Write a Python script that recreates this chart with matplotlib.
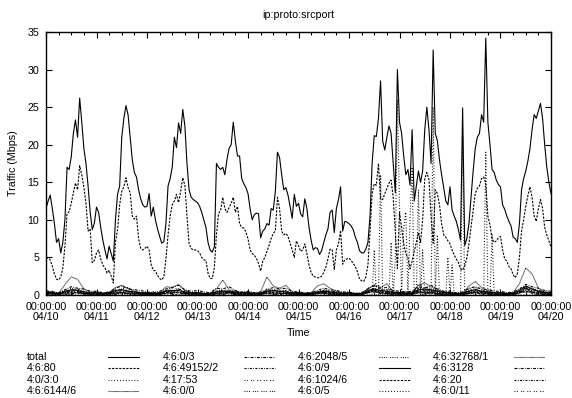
import numpy as np
import matplotlib
matplotlib.use("Agg")
from matplotlib import pyplot as plt
from matplotlib.lines import Line2D

plt.rcParams['font.family'] = ['Liberation Sans', 'DejaVu Sans']
FS = 7.7

# hourly samples, 04/10 00:00 .. 04/20 00:00
total = [11.5, 12.5, 13.3, 11.5, 9.5, 7.0, 7.5, 5.6, 7.0, 10.0, 17.0, 16.7, 18.4, 21.5, 23.3, 21.0, 26.2, 23.0, 19.5, 17.5, 14.5, 11.0, 8.7, 9.6,
         11.7, 11.0, 9.0, 7.3, 6.0, 4.8, 6.5, 5.5, 4.5, 10.0, 13.4, 14.5, 21.0, 23.5, 25.2, 24.0, 21.0, 18.0, 16.3, 15.7, 14.0, 12.8, 12.0, 11.7,
         11.8, 13.5, 10.5, 11.7, 10.0, 8.8, 7.8, 6.9, 7.1, 9.5, 14.5, 15.5, 17.0, 21.0, 19.6, 22.9, 21.5, 24.7, 22.5, 17.5, 14.0, 13.0, 12.7, 12.5,
         12.3, 11.8, 11.0, 10.0, 9.0, 7.0, 6.0, 5.7, 6.4, 17.5, 17.0, 16.7, 17.0, 16.0, 18.0, 19.5, 20.0, 23.0, 20.5, 18.5, 18.5, 15.5, 14.8, 14.3,
         13.5, 11.5, 10.0, 10.7, 10.9, 10.8, 7.6, 8.5, 8.8, 9.5, 9.3, 11.5, 11.3, 13.8, 19.0, 18.3, 16.0, 14.0, 14.3, 13.3, 11.8, 10.2, 13.4, 11.8,
         12.2, 10.8, 10.4, 12.8, 11.5, 9.0, 7.3, 6.0, 6.3, 6.2, 5.4, 5.9, 7.0, 8.0, 8.8, 11.0, 11.3, 8.3, 11.5, 12.7, 14.4, 8.5, 9.8, 9.7,
         9.5, 9.2, 8.7, 7.7, 7.0, 5.9, 5.6, 5.6, 6.1, 7.0, 10.5, 17.6, 21.2, 21.1, 23.5, 28.5, 20.5, 19.3, 21.0, 22.5, 21.5, 17.5, 13.6, 30.0,
         23.0, 21.5, 18.5, 16.0, 16.7, 14.6, 22.0, 12.5, 14.5, 16.5, 15.0, 16.5, 22.0, 25.0, 22.0, 17.5, 32.6, 21.5, 20.5, 18.0, 16.0, 14.3, 12.5, 12.0,
         14.4, 11.3, 10.5, 9.8, 8.7, 7.3, 24.9, 6.6, 7.5, 9.5, 13.0, 16.5, 19.5, 21.0, 21.5, 24.0, 23.0, 34.2, 23.0, 20.0, 16.7, 16.3, 15.3, 14.7,
         14.4, 12.0, 11.4, 10.5, 9.8, 9.2, 7.7, 7.5, 7.0, 9.5, 14.0, 15.5, 16.5, 17.8, 19.5, 22.0, 24.0, 23.5, 24.5, 25.5, 23.5, 20.0, 17.0, 15.0, 13.5]

port80 = [5.0, 4.9, 4.7, 3.8, 2.8, 2.1, 2.0, 2.4, 3.6, 6.5, 10.8, 11.1, 12.2, 13.6, 14.9, 14.0, 17.2, 16.0, 14.3, 12.2, 8.5, 8.8, 4.3, 4.6,
          5.6, 6.0, 4.8, 4.0, 3.6, 2.9, 3.3, 2.5, 1.6, 7.0, 8.7, 12.0, 13.8, 14.4, 15.6, 14.3, 13.6, 10.5, 10.1, 10.5, 7.5, 6.2, 6.0, 6.2,
          6.5, 6.0, 4.0, 3.3, 3.2, 2.6, 2.2, 2.0, 2.4, 4.8, 8.0, 10.5, 12.0, 12.5, 13.4, 12.3, 13.8, 15.6, 14.6, 10.5, 6.8, 6.2, 6.0, 6.0,
          5.9, 5.6, 5.0, 4.7, 4.6, 2.9, 2.2, 2.2, 3.6, 8.0, 10.8, 11.3, 13.0, 11.5, 11.0, 11.6, 12.2, 13.0, 11.0, 11.8, 9.5, 9.0, 8.9, 8.4,
          7.5, 6.0, 5.5, 5.3, 4.9, 4.2, 3.2, 4.5, 5.0, 5.8, 6.6, 7.5, 8.2, 8.5, 13.0, 11.5, 8.5, 8.0, 8.2, 7.8, 6.9, 6.0, 5.0, 7.2,
          6.6, 5.8, 6.0, 6.8, 5.5, 4.0, 3.0, 2.5, 2.4, 2.3, 2.3, 2.5, 3.0, 3.7, 4.8, 6.1, 6.0, 3.4, 6.0, 6.8, 8.6, 4.1, 4.7, 4.8,
          4.9, 4.6, 4.2, 3.8, 3.1, 2.1, 1.9, 1.8, 2.4, 4.0, 8.5, 13.5, 14.8, 14.6, 17.5, 12.8, 12.7, 13.5, 14.2, 14.9, 15.3, 13.0, 8.5, 3.5,
          11.0, 9.0, 6.8, 5.5, 5.0, 3.5, 4.5, 5.8, 7.0, 8.3, 7.0, 10.0, 15.5, 16.3, 15.4, 10.5, 6.9, 14.0, 13.5, 12.0, 9.5, 8.0, 7.7, 7.2,
          6.8, 6.0, 5.3, 4.8, 4.3, 3.5, 3.3, 3.9, 4.9, 6.8, 9.0, 11.2, 13.5, 14.2, 14.5, 15.5, 15.7, 14.9, 10.5, 9.3, 7.5, 7.0, 7.2, 7.6,
          7.8, 6.0, 4.8, 4.5, 3.8, 3.5, 2.7, 2.3, 2.8, 5.0, 8.5, 10.0, 11.8, 13.2, 14.4, 13.0, 10.5, 9.8, 11.5, 12.7, 11.5, 9.0, 8.0, 7.2, 6.4]

# 4:0/3:0 is zero except for short bursts (hour index, Mbps)
p30_hours = [156, 159, 164, 166, 167, 168, 170, 171, 173, 174, 177, 179, 184, 186, 191, 193, 198, 209, 212]
p30_vals = [6.0, 16.0, 7.0, 5.0, 26.0, 12.0, 9.0, 11.0, 10.0, 17.0, 14.0, 6.0, 25.0, 8.0, 5.0, 4.0, 21.0, 19.0, 8.0]

# smaller flows, 3-hourly samples
s6144 = [0.3, 0.2, 0.2, 1.4, 2.4, 2.1, 0.8, 0.4, 0.3, 0.2, 0.3, 1.0, 1.3, 0.9, 0.5, 0.3,
         0.2, 0.2, 0.3, 1.1, 1.0, 1.4, 0.6, 0.3, 0.3, 0.2, 0.2, 0.8, 2.0, 0.7, 0.5, 0.3,
         0.2, 0.2, 0.4, 2.4, 1.2, 0.9, 1.3, 0.4, 0.3, 0.2, 0.3, 1.2, 1.5, 0.9, 0.5, 0.3,
         0.2, 0.1, 0.2, 0.8, 1.4, 1.0, 1.5, 0.4, 0.3, 0.2, 0.3, 1.3, 1.6, 1.1, 0.7, 0.4,
         0.3, 0.2, 0.2, 1.2, 1.8, 1.0, 0.6, 0.3, 0.3, 0.2, 0.3, 1.5, 3.6, 2.8, 0.9, 0.4, 0.3]
s0_3 = [0.6, 0.4, 0.3, 0.7, 1.1, 0.9, 0.8, 0.5, 0.5, 0.3, 0.4, 0.9, 1.2, 0.8, 0.7, 0.6,
        0.4, 0.3, 0.5, 0.8, 1.0, 1.3, 0.7, 0.5, 0.6, 0.4, 0.3, 0.9, 0.8, 1.1, 0.6, 0.4,
        0.5, 0.3, 0.4, 0.7, 1.0, 0.8, 0.9, 0.5, 0.4, 0.3, 0.3, 0.6, 0.9, 0.7, 0.6, 0.4,
        0.4, 0.2, 0.3, 0.8, 1.2, 0.9, 1.0, 0.6, 0.5, 0.4, 0.5, 1.1, 0.9, 1.3, 0.8, 0.5,
        0.4, 0.3, 0.4, 0.9, 1.1, 0.8, 0.7, 0.5, 0.5, 0.3, 0.4, 0.8, 1.4, 1.1, 0.9, 0.6, 0.5]
s49152 = [0.3, 0.5, 0.2, 0.4, 0.6, 0.8, 0.5, 0.3, 0.4, 0.2, 0.3, 0.5, 0.7, 0.6, 0.4, 0.3,
          0.2, 0.4, 0.3, 0.6, 0.5, 0.8, 0.4, 0.3, 0.3, 0.2, 0.2, 0.5, 0.6, 0.4, 0.5, 0.3,
          0.4, 0.3, 0.2, 0.6, 0.7, 0.5, 0.6, 0.3, 0.3, 0.2, 0.3, 0.4, 0.6, 0.5, 0.4, 0.2,
          0.3, 0.2, 0.2, 0.5, 0.8, 0.6, 0.7, 0.4, 0.3, 0.4, 0.3, 0.9, 0.7, 0.6, 0.5, 0.4,
          0.3, 0.2, 0.3, 0.6, 0.8, 0.5, 0.4, 0.3, 0.3, 0.2, 0.3, 0.5, 0.9, 0.7, 0.6, 0.4, 0.3]
s17_53 = [0.3, 0.2, 0.2, 0.3, 0.4, 0.4, 0.3, 0.3, 0.2, 0.2, 0.2, 0.3, 0.4, 0.3, 0.3, 0.2,
          0.3, 0.2, 0.2, 0.4, 0.4, 0.3, 0.3, 0.2, 0.2, 0.2, 0.1, 0.3, 0.3, 0.4, 0.3, 0.2,
          0.2, 0.2, 0.2, 0.3, 0.4, 0.3, 0.3, 0.2, 0.2, 0.1, 0.2, 0.3, 0.3, 0.3, 0.2, 0.2,
          0.2, 0.2, 0.2, 0.3, 0.4, 0.4, 0.3, 0.3, 0.3, 0.2, 0.2, 0.4, 0.5, 0.4, 0.3, 0.3,
          0.2, 0.2, 0.2, 0.3, 0.4, 0.3, 0.3, 0.2, 0.2, 0.2, 0.2, 0.4, 0.5, 0.4, 0.3, 0.3, 0.2]
s0_0 = [0.5, 0.3, 0.2, 0.6, 0.9, 0.7, 0.4, 0.3, 0.4, 0.2, 0.2, 0.7, 0.8, 1.0, 0.5, 0.3,
        0.3, 0.2, 0.3, 0.6, 0.9, 0.8, 0.6, 0.4, 0.3, 0.2, 0.2, 0.5, 0.7, 0.6, 0.4, 0.3,
        0.3, 0.2, 0.3, 0.8, 0.6, 0.7, 0.5, 0.3, 0.3, 0.2, 0.2, 0.4, 0.7, 0.5, 0.4, 0.3,
        0.2, 0.2, 0.2, 0.9, 1.3, 0.8, 0.6, 0.4, 0.4, 0.3, 0.3, 1.4, 1.0, 0.9, 0.6, 0.4,
        0.3, 0.2, 0.3, 0.8, 1.0, 0.7, 0.5, 0.3, 0.3, 0.2, 0.3, 0.7, 1.0, 0.9, 0.6, 0.4, 0.3]
s2048 = [0.2, 0.3, 0.1, 0.4, 0.5, 0.6, 0.3, 0.2, 0.2, 0.1, 0.2, 0.4, 0.6, 0.5, 0.3, 0.2,
         0.2, 0.1, 0.2, 0.5, 0.4, 0.7, 0.3, 0.2, 0.2, 0.1, 0.1, 0.3, 0.5, 0.4, 0.3, 0.2,
         0.2, 0.1, 0.2, 0.4, 0.5, 0.4, 0.4, 0.2, 0.2, 0.1, 0.1, 0.3, 0.4, 0.4, 0.3, 0.2,
         0.2, 0.1, 0.2, 0.5, 0.9, 0.5, 0.4, 0.3, 0.2, 0.2, 0.2, 0.6, 0.7, 0.5, 0.4, 0.2,
         0.2, 0.1, 0.2, 0.5, 0.6, 0.4, 0.3, 0.2, 0.2, 0.1, 0.2, 0.4, 0.8, 0.6, 0.4, 0.3, 0.2]
s0_9 = [0.4, 0.3, 0.2, 0.5, 0.7, 0.6, 0.4, 0.3, 0.3, 0.2, 0.3, 0.6, 0.7, 0.5, 0.4, 0.3,
        0.3, 0.2, 0.2, 0.5, 0.6, 0.6, 0.4, 0.3, 0.3, 0.2, 0.2, 0.4, 0.5, 0.5, 0.3, 0.3,
        0.3, 0.2, 0.2, 0.5, 0.6, 0.5, 0.4, 0.3, 0.3, 0.2, 0.2, 0.4, 0.5, 0.4, 0.3, 0.2,
        0.3, 0.2, 0.2, 0.6, 0.8, 0.6, 0.5, 0.3, 0.3, 0.2, 0.3, 0.7, 0.8, 0.7, 0.5, 0.3,
        0.3, 0.2, 0.2, 0.5, 0.7, 0.5, 0.4, 0.3, 0.3, 0.2, 0.2, 0.6, 1.2, 0.8, 0.5, 0.3, 0.3]
s1024 = [0.2, 0.2, 0.1, 0.3, 0.4, 0.3, 0.2, 0.2, 0.2, 0.1, 0.1, 0.3, 0.3, 0.4, 0.2, 0.2,
         0.1, 0.1, 0.2, 0.3, 0.4, 0.3, 0.2, 0.1, 0.2, 0.1, 0.1, 0.2, 0.3, 0.3, 0.2, 0.1,
         0.1, 0.1, 0.1, 0.3, 0.3, 0.2, 0.2, 0.1, 0.1, 0.1, 0.1, 0.2, 0.3, 0.2, 0.2, 0.1,
         0.1, 0.1, 0.1, 0.4, 0.5, 0.3, 0.3, 0.2, 0.2, 0.1, 0.2, 0.4, 0.4, 0.3, 0.2, 0.2,
         0.1, 0.1, 0.1, 0.3, 0.4, 0.3, 0.2, 0.1, 0.1, 0.1, 0.1, 0.3, 0.5, 0.4, 0.3, 0.2, 0.1]
s0_5 = [0.3, 0.2, 0.2, 0.4, 0.6, 0.5, 0.3, 0.2, 0.3, 0.2, 0.2, 0.4, 0.5, 0.5, 0.3, 0.2,
        0.2, 0.2, 0.2, 0.5, 0.5, 0.4, 0.3, 0.2, 0.2, 0.1, 0.2, 0.4, 0.4, 0.5, 0.3, 0.2,
        0.2, 0.1, 0.2, 0.4, 0.5, 0.4, 0.3, 0.2, 0.2, 0.1, 0.1, 0.3, 0.4, 0.4, 0.3, 0.2,
        0.2, 0.1, 0.2, 0.5, 0.6, 0.5, 0.4, 0.2, 0.2, 0.2, 0.2, 0.6, 0.6, 0.5, 0.3, 0.2,
        0.2, 0.1, 0.2, 0.4, 0.5, 0.4, 0.3, 0.2, 0.2, 0.1, 0.2, 0.5, 0.7, 0.6, 0.4, 0.2, 0.2]
s32768 = [0.2, 0.1, 0.1, 0.2, 0.3, 0.3, 0.2, 0.1, 0.1, 0.1, 0.1, 0.2, 0.3, 0.2, 0.2, 0.1,
          0.1, 0.1, 0.1, 0.2, 0.3, 0.3, 0.2, 0.1, 0.1, 0.1, 0.1, 0.2, 0.2, 0.2, 0.1, 0.1,
          0.1, 0.1, 0.1, 0.2, 0.3, 0.2, 0.2, 0.1, 0.1, 0.1, 0.1, 0.2, 0.2, 0.2, 0.1, 0.1,
          0.1, 0.1, 0.1, 0.3, 0.4, 0.3, 0.2, 0.1, 0.1, 0.1, 0.1, 0.3, 0.3, 0.3, 0.2, 0.1,
          0.1, 0.1, 0.1, 0.2, 0.3, 0.2, 0.2, 0.1, 0.1, 0.1, 0.1, 0.3, 0.4, 0.3, 0.2, 0.1, 0.1]
s3128 = [0.1, 0.2, 0.1, 0.1, 0.2, 0.3, 0.2, 0.1, 0.1, 0.1, 0.2, 0.1, 0.3, 0.2, 0.1, 0.1,
         0.1, 0.2, 0.1, 0.2, 0.2, 0.4, 0.1, 0.1, 0.2, 0.1, 0.1, 0.1, 0.2, 0.3, 0.1, 0.1,
         0.1, 0.1, 0.2, 0.2, 0.1, 0.2, 0.2, 0.1, 0.1, 0.1, 0.1, 0.2, 0.3, 0.1, 0.1, 0.1,
         0.1, 0.2, 0.1, 0.3, 0.6, 0.2, 0.2, 0.1, 0.1, 0.1, 0.2, 0.5, 0.3, 0.2, 0.1, 0.1,
         0.1, 0.1, 0.1, 0.2, 0.3, 0.2, 0.1, 0.1, 0.1, 0.1, 0.1, 0.2, 0.9, 0.4, 0.2, 0.1, 0.1]
s20 = [0.0, 0.0, 0.1, 0.3, 0.0, 0.5, 0.1, 0.0, 0.0, 0.2, 0.0, 0.1, 0.4, 0.0, 0.2, 0.0,
       0.1, 0.0, 0.0, 0.6, 0.1, 0.0, 0.3, 0.0, 0.0, 0.1, 0.0, 0.2, 0.0, 0.4, 0.0, 0.1,
       0.0, 0.0, 0.2, 0.5, 0.1, 0.0, 0.3, 0.0, 0.1, 0.0, 0.0, 0.2, 0.3, 0.0, 0.1, 0.0,
       0.0, 0.1, 0.0, 0.4, 0.8, 0.1, 0.2, 0.0, 0.0, 0.0, 0.1, 0.3, 0.0, 0.6, 0.1, 0.0,
       0.1, 0.0, 0.0, 0.2, 0.5, 0.0, 0.2, 0.0, 0.0, 0.1, 0.0, 0.3, 1.1, 0.2, 0.0, 0.1, 0.0]
s0_11 = [0.2, 0.1, 0.1, 0.3, 0.4, 0.3, 0.2, 0.1, 0.1, 0.1, 0.1, 0.3, 0.4, 0.3, 0.2, 0.1,
         0.1, 0.1, 0.1, 0.3, 0.3, 0.4, 0.2, 0.1, 0.1, 0.1, 0.1, 0.2, 0.3, 0.3, 0.2, 0.1,
         0.1, 0.1, 0.1, 0.3, 0.4, 0.3, 0.2, 0.1, 0.1, 0.1, 0.1, 0.2, 0.3, 0.3, 0.2, 0.1,
         0.1, 0.1, 0.1, 0.4, 0.5, 0.4, 0.3, 0.2, 0.2, 0.1, 0.1, 0.4, 0.4, 0.3, 0.2, 0.1,
         0.1, 0.1, 0.1, 0.3, 0.4, 0.3, 0.2, 0.1, 0.1, 0.1, 0.1, 0.3, 0.6, 0.4, 0.3, 0.2, 0.1]

day_labels = ['04/10', '04/11', '04/12', '04/13', '04/14', '04/15',
              '04/16', '04/17', '04/18', '04/19', '04/20']

# build 4:0/3:0 hourly series
p30 = np.zeros(len(total))
p30[p30_hours] = p30_vals

# (label, hours, values, linestyle) in gnuplot line type order
series = [
    ('total', np.arange(len(total)), total, '-'),
    ('4:6:80', np.arange(len(port80)), port80, (0, (2.0, 1.2))),
    ('4:0/3:0', np.arange(len(p30)), p30, (0, (0.8, 1.8))),
    ('4:6:6144/6', np.arange(len(s6144)) * 3, s6144, (0, (0.5, 0.5))),
    ('4:6:0/3', np.arange(len(s0_3)) * 3, s0_3, (0, (2.5, 1.2, 0.7, 1.2))),
    ('4:6:49152/2', np.arange(len(s49152)) * 3, s49152, (0, (1.8, 1.2, 0.7, 1.2))),
    ('4:17:53', np.arange(len(s17_53)) * 3, s17_53, (0, (0.8, 1.4, 0.8, 2.8))),
    ('4:6:0/0', np.arange(len(s0_0)) * 3, s0_0, (0, (0.8, 1.2, 0.8, 1.2, 0.8, 2.8))),
    ('4:6:2048/5', np.arange(len(s2048)) * 3, s2048, (0, (0.8, 1.2, 0.8, 1.2, 0.8, 1.2, 0.8, 2.8))),
    ('4:6:0/9', np.arange(len(s0_9)) * 3, s0_9, '-'),
    ('4:6:1024/6', np.arange(len(s1024)) * 3, s1024, (0, (2.0, 1.2))),
    ('4:6:0/5', np.arange(len(s0_5)) * 3, s0_5, (0, (0.8, 1.8))),
    ('4:6:32768/1', np.arange(len(s32768)) * 3, s32768, (0, (0.5, 0.5))),
    ('4:6:3128', np.arange(len(s3128)) * 3, s3128, (0, (2.5, 1.2, 0.7, 1.2))),
    ('4:6:20', np.arange(len(s20)) * 3, s20, (0, (1.8, 1.2, 0.7, 1.2))),
    ('4:6:0/11', np.arange(len(s0_11)) * 3, s0_11, (0, (0.8, 1.4, 0.8, 2.8))),
]

W, H = 572, 398
fig = plt.figure(figsize=(W / 100, H / 100), dpi=100)
ax = fig.add_axes([46 / W, 1 - 295 / H, 505 / W, 263 / H])

for name, x, y, ls in series:
    ax.plot(x, y, color='black', lw=0.8, linestyle=ls)

ax.set_xlim(0, 240)
ax.set_ylim(0, 35)
ax.set_xticks(np.arange(0, 241, 24))
ax.set_xticks(np.arange(0, 241, 6), minor=True)
ax.set_xticklabels(['00:00:00\n' + d for d in day_labels], fontsize=FS, linespacing=1.05)
for lab in ax.get_xticklabels():
    lab.set_multialignment('center')
ax.set_yticks(np.arange(0, 36, 5))
ax.set_yticklabels([str(v) for v in range(0, 36, 5)], fontsize=FS)
ax.tick_params(which='both', direction='in', top=True, right=True, width=0.8)
ax.tick_params(which='major', length=4)
ax.tick_params(which='minor', length=2.5)
ax.tick_params(axis='y', pad=5)
ax.tick_params(axis='x', pad=5)
for s in ax.spines.values():
    s.set_linewidth(1.0)

fig.text(298.5 / W, 1 - 15 / H, 'ip:proto:srcport', ha='center', va='center', fontsize=FS)
fig.text(13 / W, 1 - 163 / H, 'Traffic (Mbps)', ha='center', va='center', rotation=90, fontsize=FS)
fig.text(298.5 / W, 1 - 333 / H, 'Time', ha='center', va='center', fontsize=FS)

# gnuplot style key: label then line sample, 4 columns
col_x = [27, 163, 298, 433]
row_y = [357, 368.3, 379.6, 391]
for i, (name, x, y, ls) in enumerate(series):
    c, r = divmod(i, 4)
    tx, ty = col_x[c], row_y[r]
    fig.text(tx / W, 1 - ty / H, name, ha='left', va='center', fontsize=FS)
    fig.add_artist(Line2D([(tx + 81) / W, (tx + 112) / W], [1 - ty / H, 1 - ty / H],
                          transform=fig.transFigure, color='black', lw=0.8, linestyle=ls))

fig.savefig('out.png', dpi=100)
